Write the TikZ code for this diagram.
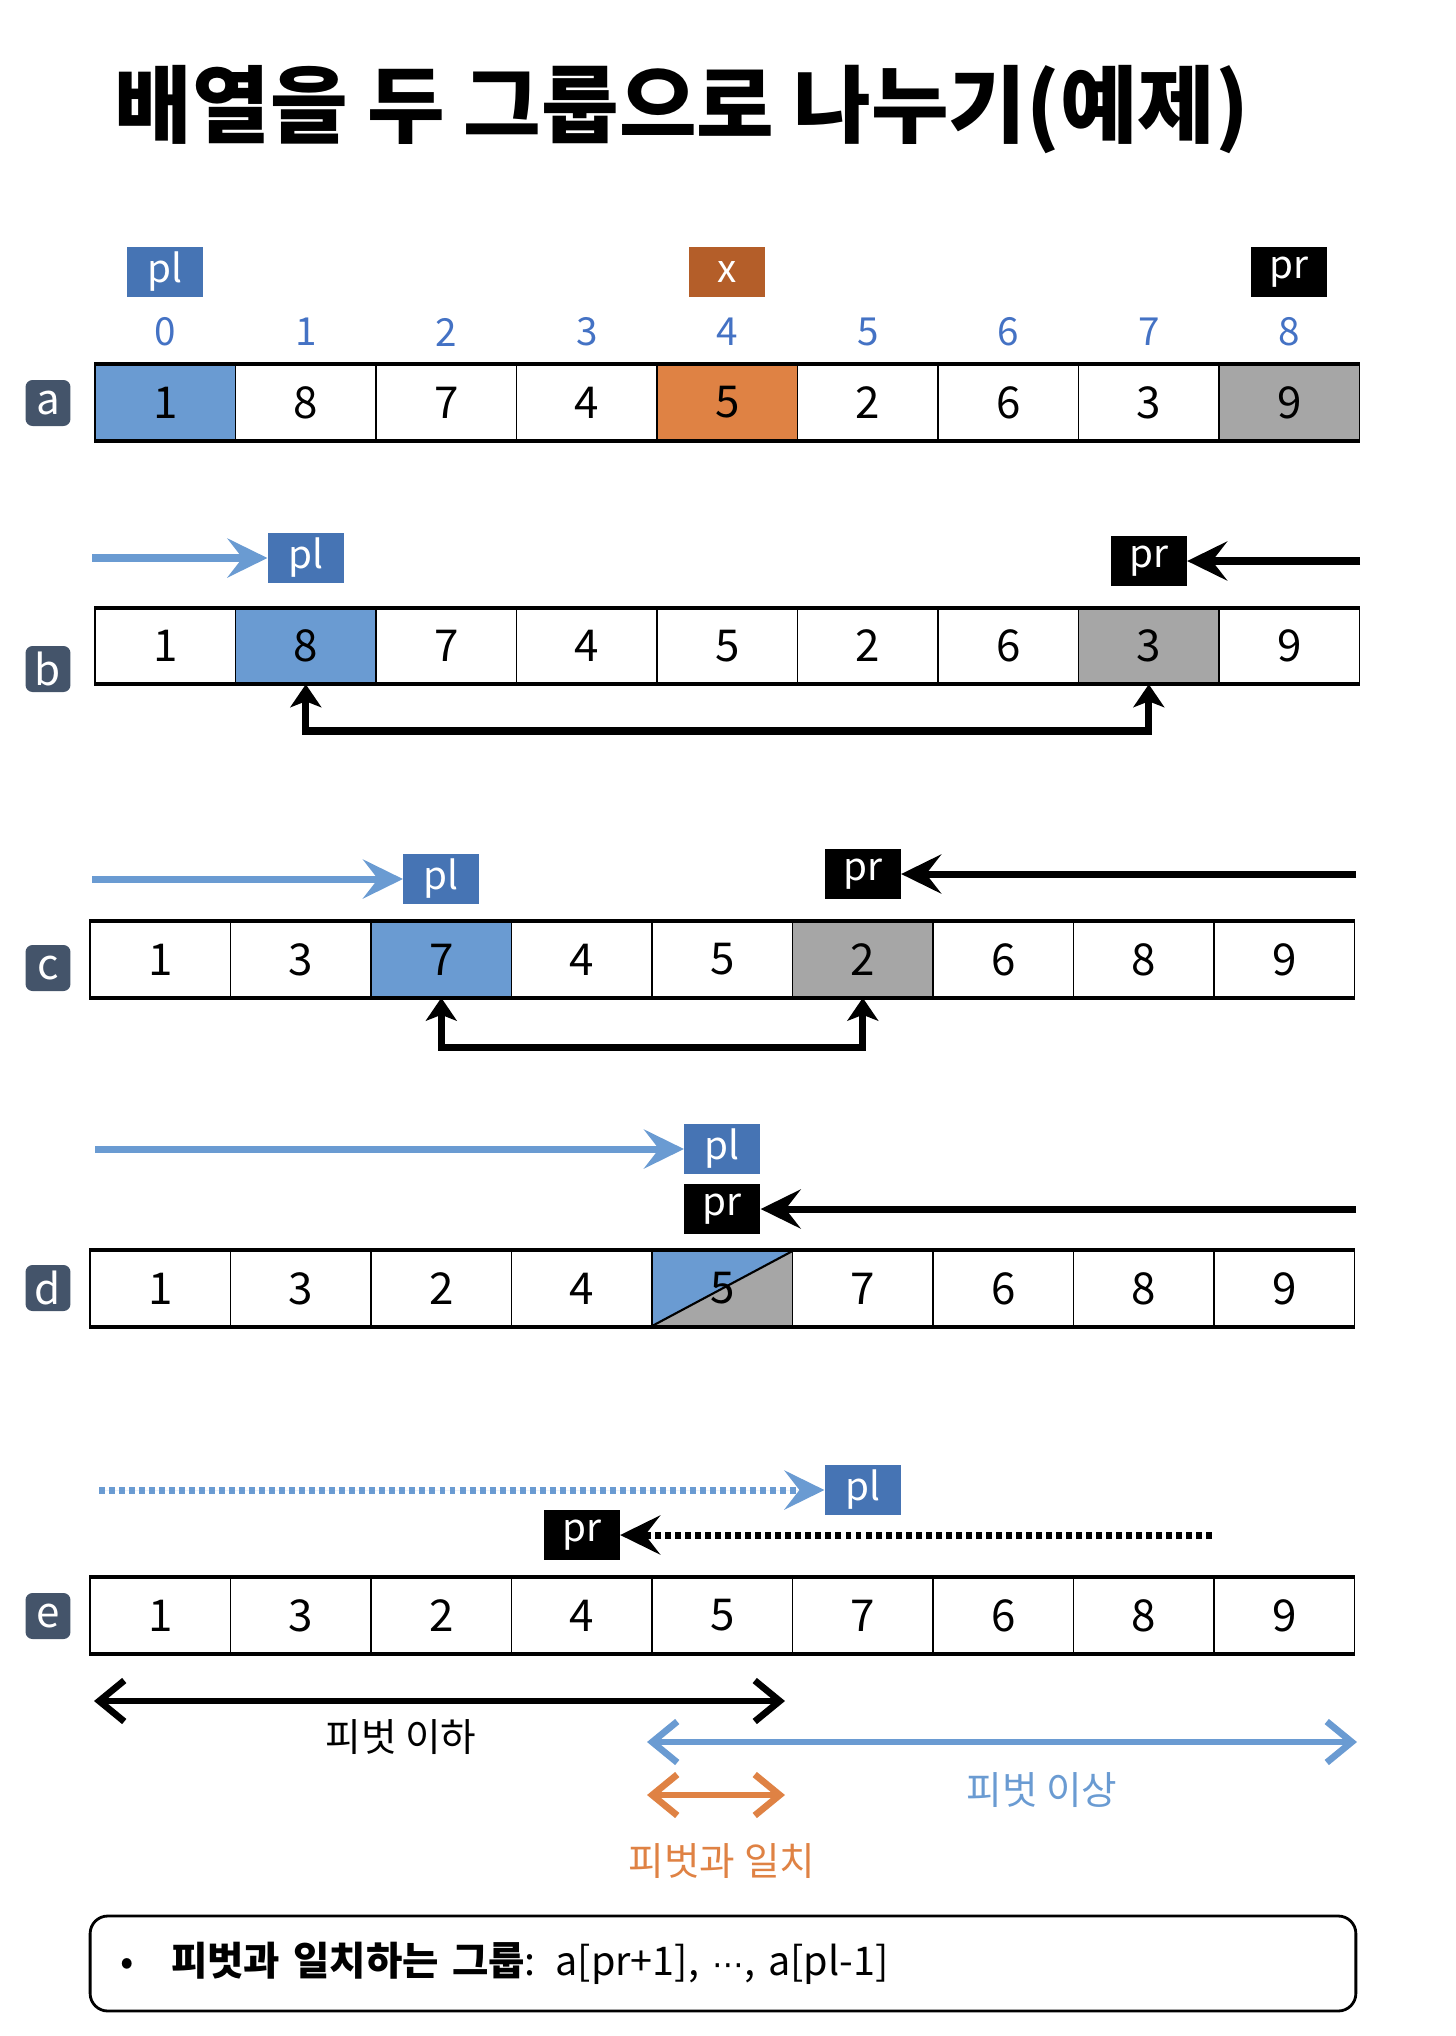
\documentclass[tikz,border=0pt]{standalone}
\usepackage{fontspec}
\setmainfont{Noto Sans CJK KR}
\newfontfamily\dotsfont{DejaVu Sans}
\usetikzlibrary{arrows.meta,positioning}

\definecolor{cellblue}{HTML}{6A9BD2}
\definecolor{ptrblue}{HTML}{4674B4}
\definecolor{cellorange}{HTML}{DF8244}
\definecolor{xbrown}{HTML}{B45E29}
\definecolor{cellgray}{HTML}{A6A6A6}
\definecolor{tagslate}{HTML}{44546A}
\definecolor{idxblue}{HTML}{4472C4}

\tikzset{
  cell/.style={draw, line width=0.9pt, minimum width=2.81cm, minimum height=1.5cm, inner sep=0pt, font=\fontsize{25}{25}\selectfont},
  whitecell/.style={fill=white},
  bluecell/.style={fill=cellblue},
  orangecell/.style={fill=cellorange},
  graycell/.style={fill=cellgray},
  splitcell/.style={fill=white, path picture={
    \fill[cellgray] (path picture bounding box.south west) -- (path picture bounding box.south east) -- (path picture bounding box.north east) -- cycle;
    \fill[cellblue] (path picture bounding box.south west) -- (path picture bounding box.north west) -- (path picture bounding box.north east) -- cycle;
    \draw[line width=1.2pt] (path picture bounding box.south west) -- (path picture bounding box.north east);}},
  rim/.style={line width=2.4pt},
  ptr/.style={minimum width=1.52cm, minimum height=1cm, inner sep=0pt, text=white, font=\fontsize{22}{22}\selectfont},
  rowtag/.style={fill=tagslate, rounded corners=4pt, minimum width=0.9cm, minimum height=0.92cm, inner sep=0pt, text=white, font=\fontsize{24}{24}\selectfont},
  idx/.style={text=idxblue, font=\fontsize{22}{22}\selectfont},
  mover/.style={line width=4pt, -{Stealth[length=0.8cm, width=0.78cm, inset=0.3cm]}},
  swap/.style={line width=4pt, {Stealth[length=0.46cm, width=0.62cm, inset=0.12cm]}-{Stealth[length=0.46cm, width=0.62cm, inset=0.12cm]}},
  grouparrow/.style={line width=3.8pt, {Straight Barb[length=0.5cm, width=0.82cm]}-{Straight Barb[length=0.5cm, width=0.82cm]}},
  grouptext/.style={font=\fontsize{22}{22}\selectfont},
  notebox/.style={draw, line width=1.6pt, rounded corners=10pt, minimum height=1.9cm, text width=24.12cm, inner xsep=0.6cm, align=left, font=\fontsize{22.5}{22.5}\selectfont}
}

\begin{document}
\begin{tikzpicture}[x=0.02cm, y=-0.02cm]
	\useasboundingbox (0,0) rectangle (1456,2036);
	\node[font=\fontsize{48}{48}\selectfont\bfseries] (title) at (682,110) {배열을 두 그룹으로 나누기(예제)};

	% a
	\foreach \v/\s [count=\i from 0] in {1/bluecell,8/whitecell,7/whitecell,4/whitecell,5/orangecell,2/whitecell,6/whitecell,3/whitecell,9/graycell}
		\node[cell,\s] (a\i) at ({165.3+140.5*\i},402.5) {\v};
	\foreach \i in {0,...,8}
		\node[idx] (n\i) at (a\i |- 0,332) {\i};
	\node[ptr, fill=ptrblue] (plA) at (a0 |- 0,272) {pl};
	\node[ptr, fill=xbrown] (xA) at (a4 |- 0,272) {x};
	\node[ptr, fill=black] (prA) at (a8 |- 0,272) {pr};
	\node[rowtag] (tagA) at (48,403) {a};

	% b
	\foreach \v/\s [count=\i from 0] in {1/whitecell,8/bluecell,7/whitecell,4/whitecell,5/whitecell,2/whitecell,6/whitecell,3/graycell,9/whitecell}
		\node[cell,\s] (b\i) at ({165.3+140.5*\i},646) {\v};
	\node[ptr, fill=ptrblue] (plB) at (b1 |- 0,558) {pl};
	\node[ptr, fill=black] (prB) at (b7 |- 0,561) {pr};
	\coordinate (bL) at (92,558);
	\coordinate (bR) at (1360,561);
	\draw[mover, draw=cellblue, fill=cellblue] (bL) -- (plB);
	\draw[mover] (bR) -- (prB);
	\draw[swap] (b1.south) -- (b1.south |- 0,731) -| (b7.south);
	\node[rowtag] (tagB) at (48,669) {b};

	% c
	\foreach \v/\s [count=\i from 0] in {1/whitecell,3/whitecell,7/bluecell,4/whitecell,5/whitecell,2/graycell,6/whitecell,8/whitecell,9/whitecell}
		\node[cell,\s] (c\i) at ({160.3+140.5*\i},959.5) {\v};
	\node[ptr, fill=ptrblue] (plC) at (c2 |- 0,879) {pl};
	\node[ptr, fill=black] (prC) at (c5 |- 0,874) {pr};
	\coordinate (cL) at (92,879);
	\coordinate (cR) at (1356,874);
	\draw[mover, draw=cellblue, fill=cellblue] (cL) -- (plC);
	\draw[mover] (cR) -- (prC);
	\draw[swap] (c2.south) -- (c2.south |- 0,1047) -| (c5.south);
	\node[rowtag] (tagC) at (48,968) {c};

	% d
	\foreach \v/\s [count=\i from 0] in {1/whitecell,3/whitecell,2/whitecell,4/whitecell,5/splitcell,7/whitecell,6/whitecell,8/whitecell,9/whitecell}
		\node[cell,\s] (d\i) at ({160.3+140.5*\i},1288.5) {\v};
	\node[ptr, fill=ptrblue] (plD) at (d4 |- 0,1149) {pl};
	\node[ptr, fill=black] (prD) at (d4 |- 0,1209) {pr};
	\coordinate (dL) at (95,1149);
	\coordinate (dR) at (1356,1209);
	\draw[mover, draw=cellblue, fill=cellblue] (dL) -- (plD);
	\draw[mover] (dR) -- (prD);
	\node[rowtag] (tagD) at (48,1288) {d};

	% e
	\foreach \v [count=\i from 0] in {1,3,2,4,5,7,6,8,9}
		\node[cell,whitecell] (e\i) at ({160.3+140.5*\i},1615.5) {\v};
	\node[ptr, fill=ptrblue] (plE) at (e5 |- 0,1490) {pl};
	\node[ptr, fill=black] (prE) at (e3 |- 0,1535) {pr};
	\coordinate (eL) at (99,1490);
	\coordinate (eR) at (1212,1535);
	\draw[mover, draw=cellblue, fill=cellblue, dash pattern=on 3.4pt off 2.3pt] (eL) -- (plE);
	\draw[mover, dash pattern=on 3.4pt off 2.3pt] (eR) -- (prE);
	\node[rowtag] (tagE) at (48,1616) {e};

	% thick rims
	\foreach \r in {a,b,c,d,e} {
		\draw[rim] (\r0.north west) -- (\r8.north east);
		\draw[rim] (\r0.south west) -- (\r8.south east);
	}

	% groups
	\coordinate (loL) at (94,1701);
	\coordinate (loR) at (785,1701);
	\draw[grouparrow] (loL) -- (loR);
	\node[grouptext] (loT) at (401,1737) {피벗 이하};
	\coordinate (hiL) at (647,1742);
	\coordinate (hiR) at (1357,1742);
	\draw[grouparrow, draw=cellblue] (hiL) -- (hiR);
	\node[grouptext, text=cellblue] (hiT) at (1042,1790) {피벗 이상};
	\coordinate (eqL) at (647,1795);
	\coordinate (eqR) at (785,1795);
	\draw[grouparrow, draw=cellorange] (eqL) -- (eqR);
	\node[grouptext, text=cellorange] (eqT) at (722,1861) {피벗과 일치};

	\node[notebox] (note) at (723,1963.5) {\makebox[1.02cm][l]{•}\textbf{피벗과 일치하는 그룹}: a[pr+1], {\dotsfont\fontsize{18}{18}\selectfont ⋯}, a[pl-1]};
\end{tikzpicture}
\end{document}
